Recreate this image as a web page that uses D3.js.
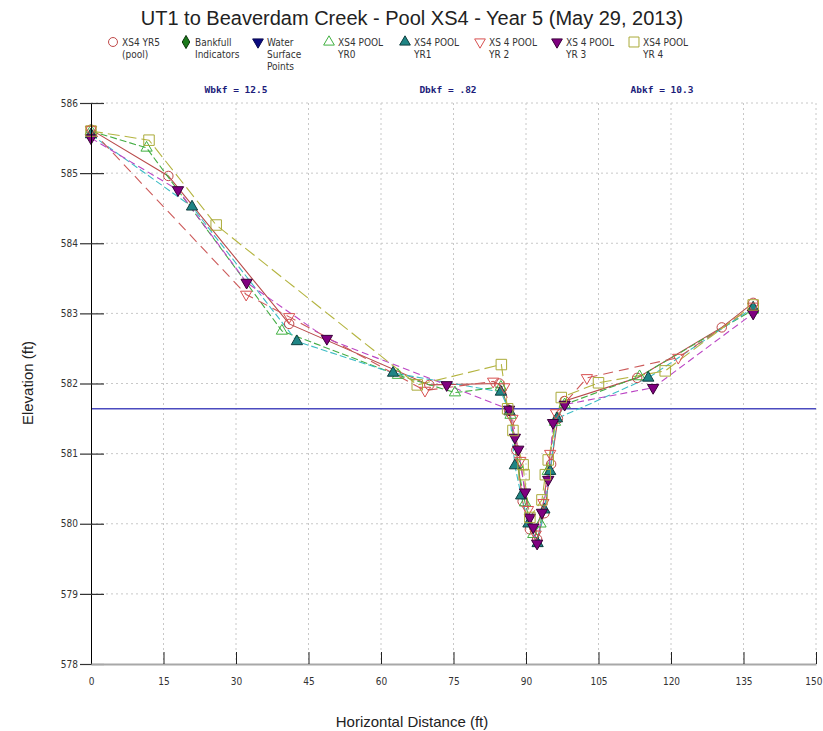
<!DOCTYPE html>
<html>
<head>
<meta charset="utf-8">
<script src="https://cdn.jsdelivr.net/npm/d3@7"></script>
<style>
  body { margin: 0; background: #fff; }
  svg { display: block; }
</style>
</head>
<body>
<svg id="chart"></svg>
<script>
const xTicks = [0, 15, 30, 45, 60, 75, 90, 105, 120, 135, 150]
const yTicks = [578, 579, 580, 581, 582, 583, 584, 585, 586]

// XS4 YR5 (pool)
const yr5Dist = [0, 16, 41, 70, 84.5, 86.5, 88, 89.3, 90.8, 92.3, 93.8, 95.2, 96.6, 98, 113, 130.5, 137]
const yr5Elev = [585.62, 584.96, 582.85, 581.98, 582.0, 581.62, 581.05, 580.32, 579.92, 579.78, 580.15, 580.85, 581.5, 581.75, 582.08, 582.8, 583.15]

const bankfullDist = []
const bankfullElev = []

const waterSurfaceDist = [0, 150]
const waterSurfaceElev = [581.64, 581.64]

// XS4 POOL YR0
const yr0Dist = [0, 11.5, 39.5, 63.5, 75.3, 84.8, 86.8, 88.2, 89.8, 91.5, 93, 94.5, 96, 98, 113.5, 137]
const yr0Elev = [585.6, 585.36, 582.75, 582.12, 581.87, 581.95, 581.55, 580.85, 580.3, 579.85, 580.0, 580.75, 581.45, 581.7, 582.1, 583.05]

// XS4 POOL YR1
const yr1Dist = [0, 20.9, 42.6, 62.5, 84.8, 86.6, 87.7, 89, 90.5, 92.4, 93.8, 95, 96.4, 115.3, 137]
const yr1Elev = [585.55, 584.52, 582.6, 582.15, 581.88, 581.6, 580.83, 580.4, 580.0, 579.72, 580.2, 580.75, 581.5, 582.08, 583.08]

// XS 4 POOL YR 2
const yr2Dist = [0, 32.1, 41, 69.1, 83.2, 85.5, 87.2, 88.8, 90.4, 92, 93.6, 95, 96.2, 102.6, 121.5, 137]
const yr2Elev = [585.62, 583.27, 582.95, 581.9, 582.03, 581.95, 581.5, 580.9, 580.2, 579.85, 580.3, 581.0, 581.58, 582.08, 582.37, 583.1]

// XS 4 POOL YR 3
const yr3Dist = [0, 18, 32.2, 48.8, 73.6, 86.5, 87.7, 88.4, 89.8, 90.8, 91.5, 92.3, 93.3, 94.6, 95.6, 98, 116.3, 137]
const yr3Elev = [585.5, 584.76, 583.44, 582.64, 581.98, 581.63, 581.23, 581.06, 580.45, 580.09, 579.95, 579.72, 580.16, 580.63, 581.44, 581.7, 581.94, 583.0]

// XS4 POOL YR 4
const yr4Dist = [0, 12, 25.9, 67.5, 84.9, 86.2, 87.3, 89.4, 89.6, 90.8, 93.3, 94, 94.6, 97.3, 105, 118.8, 137]
const yr4Elev = [585.6, 585.47, 584.26, 581.98, 582.27, 581.64, 581.33, 580.84, 580.7, 580.09, 580.34, 580.7, 580.91, 581.8, 582.01, 582.18, 583.12]

const legendLabels = [
  ['XS4 YR5', '(pool)'],
  ['Bankfull', 'Indicators'],
  ['Water', 'Surface', 'Points'],
  ['XS4 POOL', 'YR0'],
  ['XS4 POOL', 'YR1'],
  ['XS 4 POOL', 'YR 2'],
  ['XS 4 POOL', 'YR 3'],
  ['XS4 POOL', 'YR 4']
]
const bkfLabels = ['Wbkf = 12.5', 'Dbkf = .82', 'Abkf = 10.3']

const W = 823, H = 731
const plot = { left: 91, right: 816, top: 103, bottom: 664 }
const legendX = [113, 186, 258, 329, 405, 480, 557, 634]
const bkfX = [236, 448, 662]
const narrow = '"Liberation Sans Narrow", "DejaVu Sans Condensed", sans-serif'

const svg = d3.select('#chart').attr('width', W).attr('height', H)
svg.append('rect').attr('width', W).attr('height', H).attr('fill', '#fff')

const x = d3.scaleLinear().domain([0, 150]).range([plot.left, plot.right])
const y = d3.scaleLinear().domain([578, 586]).range([plot.bottom, plot.top])

const downTriangle = { draw (ctx, size) { d3.symbolTriangle.draw(ctx, size); } }

function zip (dist, elev) { return dist.map((d, i) => ({ x: d, y: elev[i] })) }

const series = [
  { name: 'yr5', pts: zip(yr5Dist, yr5Elev), symbol: d3.symbolCircle, size: 70, fill: 'none', stroke: '#c04848', line: '#b84a4a', dash: null },
  { name: 'bankfull', pts: zip(bankfullDist, bankfullElev), symbol: d3.symbolDiamond, size: 55, fill: '#1c7a1c', stroke: '#0b330b', line: null },
  { name: 'water', pts: [], symbol: downTriangle, size: 55, fill: '#0a0a80', stroke: '#0a0a50', line: null, flip: true },
  { name: 'yr0', pts: zip(yr0Dist, yr0Elev), symbol: d3.symbolTriangle, size: 55, fill: 'none', stroke: '#40b040', line: '#44ad44', dash: '7,3' },
  { name: 'yr1', pts: zip(yr1Dist, yr1Elev), symbol: d3.symbolTriangle, size: 55, fill: '#1f8585', stroke: '#0f3f3f', line: '#3cbcc4', dash: '7,3' },
  { name: 'yr2', pts: zip(yr2Dist, yr2Elev), symbol: downTriangle, size: 55, fill: 'none', stroke: '#d85050', line: '#cc5a5a', dash: '10,6', flip: true },
  { name: 'yr3', pts: zip(yr3Dist, yr3Elev), symbol: downTriangle, size: 55, fill: '#800080', stroke: '#3a003a', line: '#bb44c4', dash: '7,4', flip: true },
  { name: 'yr4', pts: zip(yr4Dist, yr4Elev), symbol: d3.symbolSquare, size: 110, fill: 'none', stroke: '#aaaa38', line: '#b4b440', dash: '12,5' }
]

// grid
const grid = svg.append('g').attr('stroke', '#c8c8c8').attr('stroke-dasharray', '2,3')
grid.selectAll('.gx').data(xTicks.filter(d => d > 0)).join('line')
  .attr('x1', d => x(d)).attr('x2', d => x(d))
  .attr('y1', plot.top).attr('y2', plot.bottom)
grid.selectAll('.gy').data(yTicks.filter(d => d > 578)).join('line')
  .attr('x1', plot.left).attr('x2', plot.right)
  .attr('y1', d => y(d)).attr('y2', d => y(d))

// water surface
const line = d3.line().x(d => x(d.x)).y(d => y(d.y))
svg.append('path').datum(zip(waterSurfaceDist, waterSurfaceElev))
  .attr('d', line).attr('fill', 'none').attr('stroke', '#4b4bbf').attr('stroke-width', 1.6)

// series lines
svg.selectAll('.sline').data(series.filter(s => s.line && s.pts.length)).join('path')
  .attr('class', 'sline')
  .attr('d', s => line(s.pts))
  .attr('fill', 'none')
  .attr('stroke', s => s.line)
  .attr('stroke-width', 1.1)
  .attr('stroke-dasharray', s => s.dash)

// markers
series.forEach(s => {
  const sym = d3.symbol().type(s.symbol).size(s.size)
  svg.append('g').selectAll('path').data(s.pts).join('path')
    .attr('d', sym)
    .attr('transform', d => `translate(${x(d.x)},${y(d.y)})` + (s.flip ? ' rotate(180)' : ''))
    .attr('fill', s.fill)
    .attr('stroke', s.stroke)
    .attr('stroke-width', 1)
})

// axes
const yAxis = svg.append('g').attr('transform', `translate(${plot.left},0)`)
  .call(d3.axisLeft(y).tickValues(yTicks).tickFormat(d3.format('d')).tickSize(11).tickPadding(2))
yAxis.select('.domain').attr('stroke', '#000')
yAxis.selectAll('.tick line').attr('x1', 13).attr('x2', -11).attr('stroke', '#333').attr('stroke-width', 1.2)
yAxis.selectAll('.tick text').attr('font-family', narrow).attr('font-size', 10).attr('fill', '#333')

const xAxis = svg.append('g').attr('transform', `translate(0,${plot.bottom})`)
  .call(d3.axisBottom(x).tickValues(xTicks).tickFormat(d3.format('d')).tickSize(0).tickPadding(14))
xAxis.select('.domain').attr('stroke', '#a8a8a8').attr('stroke-width', 2)
xAxis.selectAll('.tick line').attr('y2', -12).attr('stroke', '#222').attr('stroke-width', 1)
  .filter(d => d === 0).remove()
xAxis.selectAll('.tick text').attr('font-family', narrow).attr('font-size', 10).attr('fill', '#333')
  .filter(d => d === 150).attr('text-anchor', 'end').attr('dx', 6)

// titles
svg.append('text').attr('x', 412).attr('y', 25).attr('text-anchor', 'middle')
  .attr('font-family', '"Liberation Sans", Arial, sans-serif').attr('font-size', 20).attr('fill', '#222')
  .text('UT1 to Beaverdam Creek - Pool XS4 - Year 5 (May 29, 2013)')
svg.append('text').attr('x', 412).attr('y', 727).attr('text-anchor', 'middle')
  .attr('font-family', '"Liberation Sans", Arial, sans-serif').attr('font-size', 15).attr('fill', '#222')
  .text('Horizontal Distance (ft)')
svg.append('text').attr('transform', 'translate(33,383) rotate(-90)').attr('text-anchor', 'middle')
  .attr('font-family', '"Liberation Sans", Arial, sans-serif').attr('font-size', 15).attr('fill', '#222')
  .text('Elevation (ft)')

// bankfull stats
svg.selectAll('.bkf').data(bkfLabels).join('text')
  .attr('x', (d, i) => bkfX[i]).attr('y', 93).attr('text-anchor', 'middle')
  .attr('font-family', '"DejaVu Sans Mono", monospace').attr('font-weight', 'bold')
  .attr('font-size', 9.5).attr('fill', '#1c1c7a')
  .text(d => d)

// legend
const legend = svg.selectAll('.leg').data(series).join('g')
  .attr('transform', (d, i) => `translate(${legendX[i]},42)`)
legend.append('path')
  .attr('d', s => d3.symbol().type(s.symbol).size(s.size * 0.9)())
  .attr('transform', s => s.flip ? 'rotate(180)' : null)
  .attr('fill', s => s.fill).attr('stroke', s => s.stroke)
legend.each(function (s, i) {
  d3.select(this).selectAll('text').data(legendLabels[i]).join('text')
    .attr('x', 9).attr('y', (d, j) => 4 + j * 12)
    .attr('font-family', narrow).attr('font-size', 10).attr('fill', '#333')
    .text(d => d)
})
</script>
</body>
</html>
